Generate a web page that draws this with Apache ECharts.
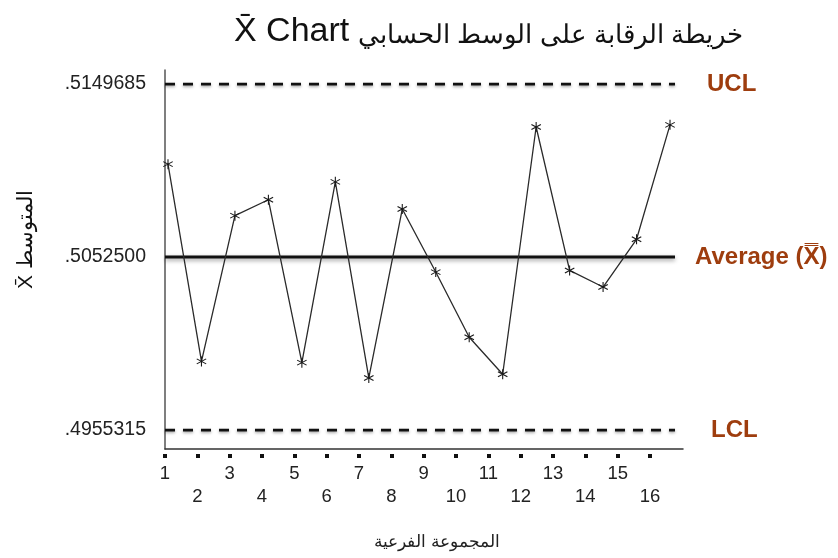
<!DOCTYPE html>
<html><head><meta charset="utf-8">
<script src="https://cdn.jsdelivr.net/npm/echarts@6/dist/echarts.min.js"></script>
<style>html,body{margin:0;padding:0;background:#fff}#c{width:838px;height:558px}</style>
</head><body><div id="c"></div>
<script>
// ---- data ----
const subgroups = [1, 2, 3, 4, 5, 6, 7, 8, 9, 10, 11, 12, 13, 14, 15, 16];
const xbarValues = [0.51047, 0.49939, 0.50758, 0.50847, 0.49932, 0.50948, 0.49846, 0.50795,
                    0.50441, 0.50075, 0.49867, 0.51256, 0.50450, 0.50357, 0.50625, 0.51268];
const UCL = 0.5149685;
const CENTER = 0.50525;
const LCL = 0.4955315;
const yTickValues = [LCL, CENTER, UCL];
const yTickLabels = ['.4955315', '.5052500', '.5149685'];
const limitNames = ['UCL', 'Average (X\u033F)', 'LCL'];
const titleLatin = 'X\u0304 Chart';
const titleArabic = 'خريطة الرقابة على الوسط الحسابي';
const yName = 'X\u0304 المتوسط';
const xName = 'المجموعة الفرعية';

// ---- chart ----
const brown = '#9e3d0e';
const FONT = '"Liberation Sans", Arial, "Noto Sans", sans-serif';
const star = 'path://M4.5 0L5.5 0L5.5 10L4.5 10Z M0.92 7.93L0.42 7.07L9.08 2.07L9.58 2.93Z M0.42 2.93L0.92 2.07L9.58 7.07L9.08 7.93Z';
const seriesMin = 0.9104, seriesMax = 16.388, lineEnd = 16.149;

function limitSeries(value, name, dashed, dist) {
  return {
    type: 'line', xAxisIndex: 1, symbol: 'none', silent: true,
    data: [[seriesMin, value], [lineEnd, value]],
    lineStyle: dashed
      ? { color: '#111', width: 2.6, type: [10, 8], shadowColor: 'rgba(0,0,0,0.35)', shadowBlur: 3, shadowOffsetY: 1.5 }
      : { color: '#111', width: 3, shadowColor: 'rgba(0,0,0,0.4)', shadowBlur: 4, shadowOffsetY: 2 },
    endLabel: { show: true, formatter: name, distance: dist, color: brown, fontSize: 24, fontWeight: 'bold', fontFamily: FONT },
    z: 1
  };
}

const chart = echarts.init(document.getElementById('c'));
chart.setOption({
  animation: false,
  backgroundColor: '#fff',
  title: {
    text: '{a|' + titleLatin + '}{b|' + titleArabic + '}', left: 229, top: 10,
    textStyle: {
      fontWeight: 'normal',
      rich: {
        a: { fontSize: 34, fontWeight: 'normal', color: '#111', fontFamily: FONT, verticalAlign: 'bottom', padding: [0, 9, 0, 0] },
        b: { fontSize: 26, fontWeight: 'normal', color: '#111', fontFamily: FONT, verticalAlign: 'bottom' }
      }
    }
  },
  grid: { left: 165, right: 155, top: 70, bottom: 109, containLabel: false },
  xAxis: [
    {
      type: 'value', min: 1, max: 17.02, position: 'bottom', offset: 5,
      axisLine: { show: false },
      axisTick: { show: true, length: 4, customValues: subgroups, lineStyle: { color: '#111', width: 4 } },
      axisLabel: {
        customValues: subgroups, margin: 8, fontSize: 18.5, color: '#222', fontFamily: FONT, lineHeight: 23,
        formatter: v => (v % 2 === 0 ? '\n' + v : String(v))
      },
      splitLine: { show: false }
    },
    {
      type: 'value', min: seriesMin, max: seriesMax, position: 'bottom',
      axisLine: { show: true, lineStyle: { color: '#333', width: 1.5 } },
      axisTick: { show: false }, axisLabel: { show: false }, splitLine: { show: false },
      name: xName, nameLocation: 'middle', nameGap: 85,
      nameTextStyle: { fontSize: 16.5, color: '#222', fontFamily: FONT, padding: [0, 0, 0, 26] }
    }
  ],
  yAxis: {
    type: 'value', min: 0.49447, max: 0.515761,
    axisLine: { show: true, lineStyle: { color: '#555', width: 1.5 } },
    axisTick: { show: false },
    splitLine: { show: false },
    axisLabel: {
      customValues: yTickValues, margin: 19, fontSize: 19.5, color: '#222', fontFamily: FONT,
      formatter: v => { const i = yTickValues.findIndex(t => Math.abs(t - v) < 1e-9); return i >= 0 ? yTickLabels[i] : ''; }
    },
    name: yName, nameLocation: 'middle', nameGap: 128,
    nameTextStyle: { fontSize: 21, color: '#111', fontFamily: FONT, padding: [0, 0, 0, 40] }
  },
  series: [
    limitSeries(UCL, limitNames[0], true, 32),
    limitSeries(CENTER, limitNames[1], false, 20),
    limitSeries(LCL, limitNames[2], true, 36),
    {
      type: 'line', xAxisIndex: 1,
      data: subgroups.map((s, i) => [s, xbarValues[i]]),
      symbol: star, symbolSize: 10,
      itemStyle: { color: '#1a1a1a' },
      lineStyle: { color: '#2a2a2a', width: 1.3 },
      z: 3
    }
  ]
});
</script></body></html>
